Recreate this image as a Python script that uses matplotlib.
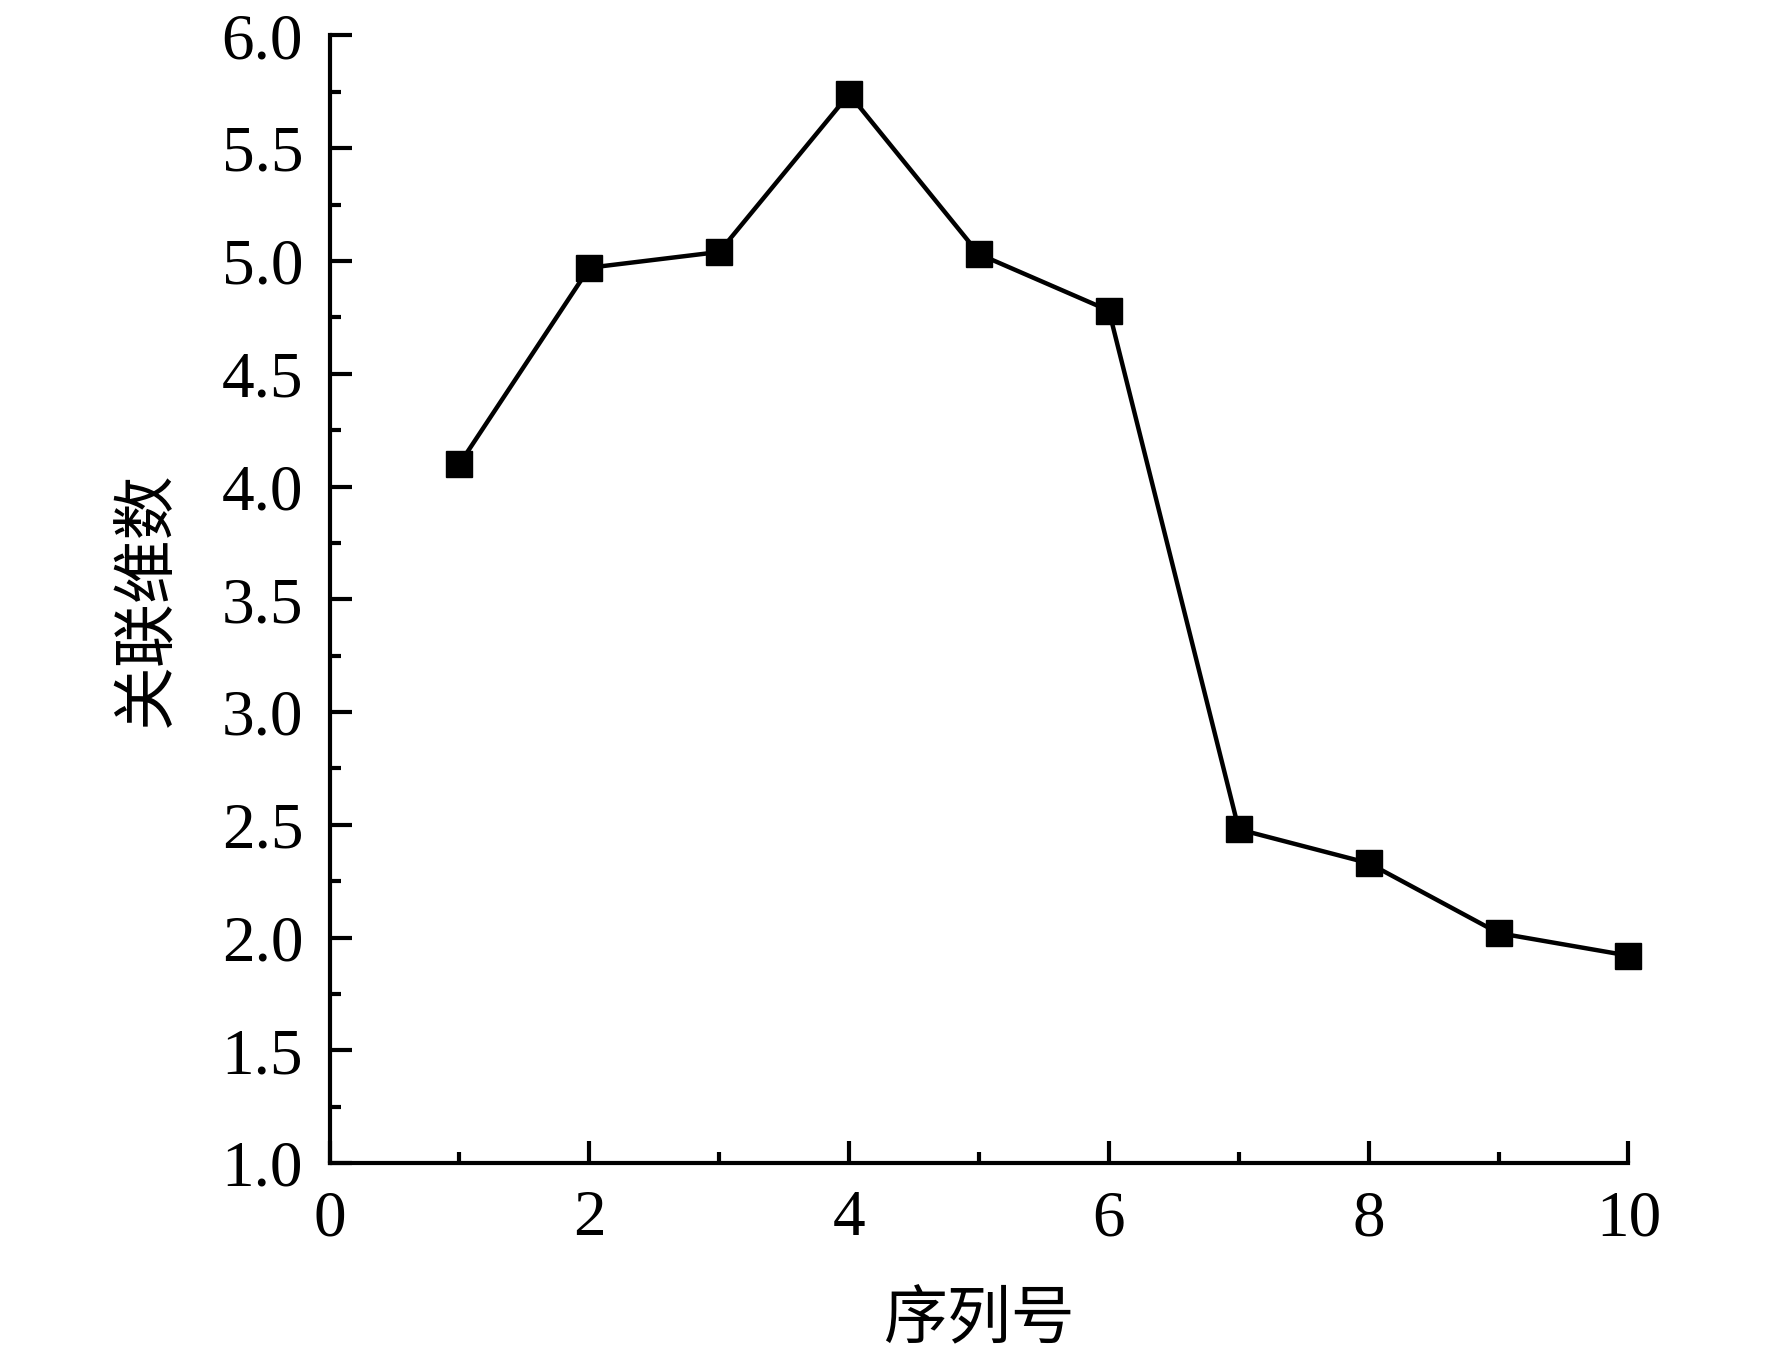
import matplotlib
matplotlib.use("Agg")
import matplotlib.pyplot as plt
from matplotlib.ticker import MultipleLocator

# data
xuhao = [1, 2, 3, 4, 5, 6, 7, 8, 9, 10]
weishu = [4.10, 4.97, 5.04, 5.74, 5.03, 4.78, 2.48, 2.33, 2.02, 1.92]

x_ticks = [0, 2, 4, 6, 8, 10]
y_ticks = [1.0, 1.5, 2.0, 2.5, 3.0, 3.5, 4.0, 4.5, 5.0, 5.5, 6.0]

serif = ['Liberation Serif', 'DejaVu Serif']
cjk = ['Noto Sans CJK SC', 'DejaVu Sans']

fig = plt.figure(figsize=(17.72, 13.62), dpi=100)
ax = fig.add_axes([0.186, 0.146, 0.733, 0.828])

ax.plot(xuhao, weishu, color='black', lw=3.2, marker='s', ms=19,
        markerfacecolor='black', markeredgecolor='black', clip_on=False)

ax.set_xlim(0, 10)
ax.set_ylim(1.0, 6.0)
ax.set_xticks(x_ticks)
ax.set_yticks(y_ticks)
ax.set_xticklabels([str(v) for v in x_ticks], family=serif, fontsize=47)
ax.set_yticklabels(['%.1f' % v for v in y_ticks], family=serif, fontsize=47)
ax.xaxis.set_minor_locator(MultipleLocator(1))
ax.yaxis.set_minor_locator(MultipleLocator(0.25))

ax.spines['top'].set_visible(False)
ax.spines['right'].set_visible(False)
ax.spines['left'].set_linewidth(3)
ax.spines['bottom'].set_linewidth(3)
ax.tick_params(which='major', direction='in', length=16, width=3, pad=19)
ax.tick_params(which='minor', direction='in', length=8, width=3)

ax.set_xlabel('序列号', family=cjk, fontsize=46, labelpad=27)
ax.set_ylabel('关联维数', family=cjk, fontsize=46, labelpad=30)

fig.savefig('out.png', dpi=100, facecolor='white')
